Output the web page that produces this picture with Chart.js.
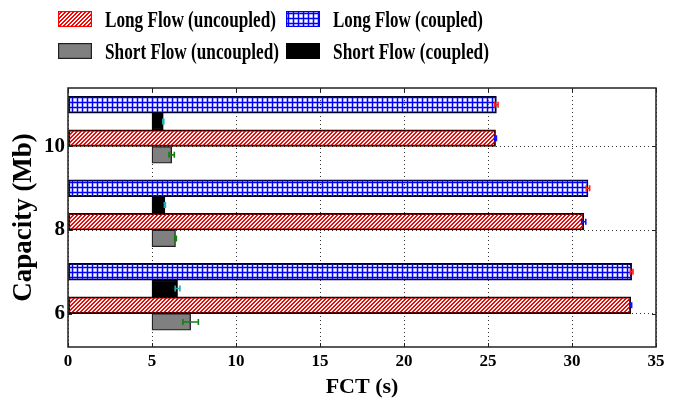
<!DOCTYPE html>
<html><head><meta charset="utf-8">
<script src="https://cdn.jsdelivr.net/npm/chart.js@4.4.0/dist/chart.umd.min.js"></script>
<style>
html,body{margin:0;padding:0;background:#fff;}
#wrap{position:relative;width:694px;height:404px;overflow:hidden;}
#c{position:absolute;left:0;top:0;}
.lgt{position:absolute;font-family:"Liberation Serif","Times New Roman",serif;font-weight:bold;font-size:18px;line-height:20px;color:#000;white-space:nowrap;transform-origin:left center;}
.lgs{position:absolute;}
</style></head><body>
<div id="wrap"><canvas id="c" width="694" height="404"></canvas><div id="legend"></div></div>
<script>
// ---- data ----
const categories = [6, 8, 10];               // capacity (Mb)
const yTicks = [6, 8, 10];
const xTickStep = 5;
const shortStart = 5;                        // short flows start at t = 5 s
const longUncoupled = [33.5, 30.7, 25.45];
const longCoupled   = [33.55, 30.95, 25.5];
const shortUncoupled = [7.3, 6.4, 6.17];
const shortCoupled   = [6.52, 5.77, 5.67];
const longUncoupledErr = [0.05, 0.12, 0.05];
const longCoupledErr   = [0.08, 0.1, 0.1];
const shortUncoupledErr = [0.46, 0.05, 0.16];
const shortCoupledErr   = [0.14, 0.03, 0.03];

const SERIF = '"Liberation Serif","Times New Roman",serif';

function hatchPattern(ctx) {
  const t = document.createElement('canvas'); t.width = 4; t.height = 4;
  const g = t.getContext('2d');
  g.fillStyle = '#ff0000';
  for (let i = 0; i < 4; i++) { g.fillRect(i, 3 - i, 1, 1); g.fillRect((i + 1) % 4, 3 - i, 1, 1); }
  return ctx.createPattern(t, 'repeat');
}
function gridPattern(ctx) {
  const t = document.createElement('canvas'); t.width = 5; t.height = 5;
  const g = t.getContext('2d');
  g.fillStyle = 'rgba(110,110,255,0.5)';
  g.fillRect(1, 0, 3, 5); g.fillRect(0, 1, 5, 3);
  g.fillStyle = '#0000ff';
  g.fillRect(2, 0, 1, 5); g.fillRect(0, 2, 5, 1);
  return ctx.createPattern(t, 'repeat');
}

const canvas = document.getElementById('c');
const ctx = canvas.getContext('2d');
const HATCH = hatchPattern(ctx);
const GRID = gridPattern(ctx);

const series = [
  {label: 'Long Flow (uncoupled)', vals: longUncoupled, err: longUncoupledErr, start: 0, off: 0.2,
   bg: HATCH, border: '#200000', errColor: '#1010ff', sw: 'hatch'},
  {label: 'Long Flow (coupled)', vals: longCoupled, err: longCoupledErr, start: 0, off: 1.0,
   bg: GRID, border: '#000030', errColor: '#ff2020', sw: 'grid'},
  {label: 'Short Flow (uncoupled)', vals: shortUncoupled, err: shortUncoupledErr, start: shortStart, off: -0.2,
   bg: '#808080', border: '#202020', errColor: '#108010', sw: 'gray'},
  {label: 'Short Flow (coupled)', vals: shortCoupled, err: shortCoupledErr, start: shortStart, off: 0.6,
   bg: '#000000', border: '#000000', errColor: '#20b0b0', sw: 'black'}
];

const datasets = series.map(s => ({
  label: s.label,
  data: categories.map((c, i) => ({x: [s.start, s.vals[i]], y: c + s.off})),
  backgroundColor: s.bg,
  borderColor: s.border,
  borderWidth: 1.3,
  borderSkipped: false,
  grouped: false,
  barPercentage: 1,
  categoryPercentage: 1,
  errVals: s.err,
  errColor: s.errColor
}));

const errorBars = {
  id: 'errorBars',
  afterDatasetsDraw(chart) {
    const c = chart.ctx, xs = chart.scales.x, ys = chart.scales.y;
    chart.data.datasets.forEach((ds) => {
      c.save();
      c.strokeStyle = ds.errColor; c.lineWidth = 1.6;
      ds.data.forEach((d, i) => {
        const v = d.x[1], e = ds.errVals[i];
        const x1 = xs.getPixelForValue(v - e), x2 = xs.getPixelForValue(v + e);
        const y = ys.getPixelForValue(d.y);
        c.beginPath();
        c.moveTo(x1, y); c.lineTo(x2, y);
        c.moveTo(x1, y - 3); c.lineTo(x1, y + 3);
        c.moveTo(x2, y - 3); c.lineTo(x2, y + 3);
        c.stroke();
      });
      c.restore();
    });
  }
};

const frame = {
  id: 'frame',
  afterDatasetsDraw(chart) {
    const c = chart.ctx, a = chart.chartArea, xs = chart.scales.x, ys = chart.scales.y;
    c.save();
    c.strokeStyle = '#222'; c.lineWidth = 1.5;
    c.strokeRect(a.left, a.top, a.right - a.left, a.bottom - a.top);
    c.lineWidth = 1;
    c.beginPath();
    xs.ticks.forEach(t => {
      const x = Math.round(xs.getPixelForValue(t.value)) + 0.5;
      c.moveTo(x, a.bottom); c.lineTo(x, a.bottom - 4);
      c.moveTo(x, a.top); c.lineTo(x, a.top + 4);
    });
    ys.ticks.forEach(t => {
      const y = Math.round(ys.getPixelForValue(t.value)) + 0.5;
      c.moveTo(a.left, y); c.lineTo(a.left + 4, y);
      c.moveTo(a.right, y); c.lineTo(a.right - 4, y);
    });
    c.stroke();
    c.restore();
  }
};

new Chart(canvas, {
  type: 'bar',
  data: {datasets},
  options: {
    responsive: false,
    animation: false,
    indexAxis: 'y',
    layout: {padding: {top: 88, right: 38, left: 0, bottom: 0}},
    plugins: {legend: {display: false}, tooltip: {enabled: false}},
    scales: {
      x: {
        type: 'linear', min: 0, max: 35,
        ticks: {stepSize: xTickStep, color: '#000', padding: 4, font: {family: SERIF, weight: 'bold', size: 17}},
        grid: {color: '#333', lineWidth: 1, drawTicks: false},
        border: {display: false, dash: [1, 3]},
        title: {display: true, text: 'FCT (s)', color: '#000', padding: {top: 0, bottom: 3}, font: {family: SERIF, weight: 'bold', size: 22}},
        afterFit: s => { s.height = 57; }
      },
      y: {
        type: 'linear', min: 5.2, max: 11.4, offset: false,
        afterBuildTicks: s => { s.ticks = yTicks.map(v => ({value: v})); },
        ticks: {color: '#000', padding: 3, font: {family: SERIF, weight: 'bold', size: 21}},
        grid: {color: '#333', lineWidth: 1, drawTicks: false, offset: false},
        border: {display: false, dash: [1, 3]},
        title: {display: true, text: 'Capacity (Mb)', color: '#000', padding: {top: 8, bottom: 0}, font: {family: SERIF, weight: 'bold', size: 27}},
        afterFit: s => { s.width = 68; }
      }
    }
  },
  plugins: [errorBars, frame]
});

// ---- legend (HTML, two columns) ----
const legend = document.getElementById('legend');
const cols = [58, 286];
const textCols = [105, 333];
const rows = [11, 43];
const textWidths = [171, 150, 174, 156];
series.forEach((s, i) => {
  const col = i % 2, row = Math.floor(i / 2);
  const sw = document.createElement('canvas');
  sw.width = 34; sw.height = 16; sw.className = 'lgs';
  sw.style.left = cols[col] + 'px'; sw.style.top = rows[row] + 'px';
  const g = sw.getContext('2d');
  if (s.sw === 'hatch') { g.fillStyle = hatchPattern(g); g.fillRect(0,0,34,16); g.strokeStyle = '#ff0000'; }
  else if (s.sw === 'grid') { g.fillStyle = gridPattern(g); g.fillRect(0,0,34,16); g.strokeStyle = '#0000ff'; }
  else if (s.sw === 'gray') { g.fillStyle = '#808080'; g.fillRect(0,0,34,16); g.strokeStyle = '#202020'; }
  else { g.fillStyle = '#000'; g.fillRect(0,0,34,16); g.strokeStyle = '#000'; }
  g.lineWidth = 1.2; g.strokeRect(0.6, 0.6, 32.8, 14.8);
  legend.appendChild(sw);
  const t = document.createElement('div');
  t.className = 'lgt'; t.textContent = s.label;
  t.style.left = textCols[col] + 'px'; t.style.top = (rows[row] - 2) + 'px';
  legend.appendChild(t);
  const w = t.getBoundingClientRect().width || textWidths[i];
  const sx = Math.min(1.05, textWidths[i] / w);
  t.style.transform = 'scale(' + sx.toFixed(3) + ',1.25)';
});
</script>
</body></html>
